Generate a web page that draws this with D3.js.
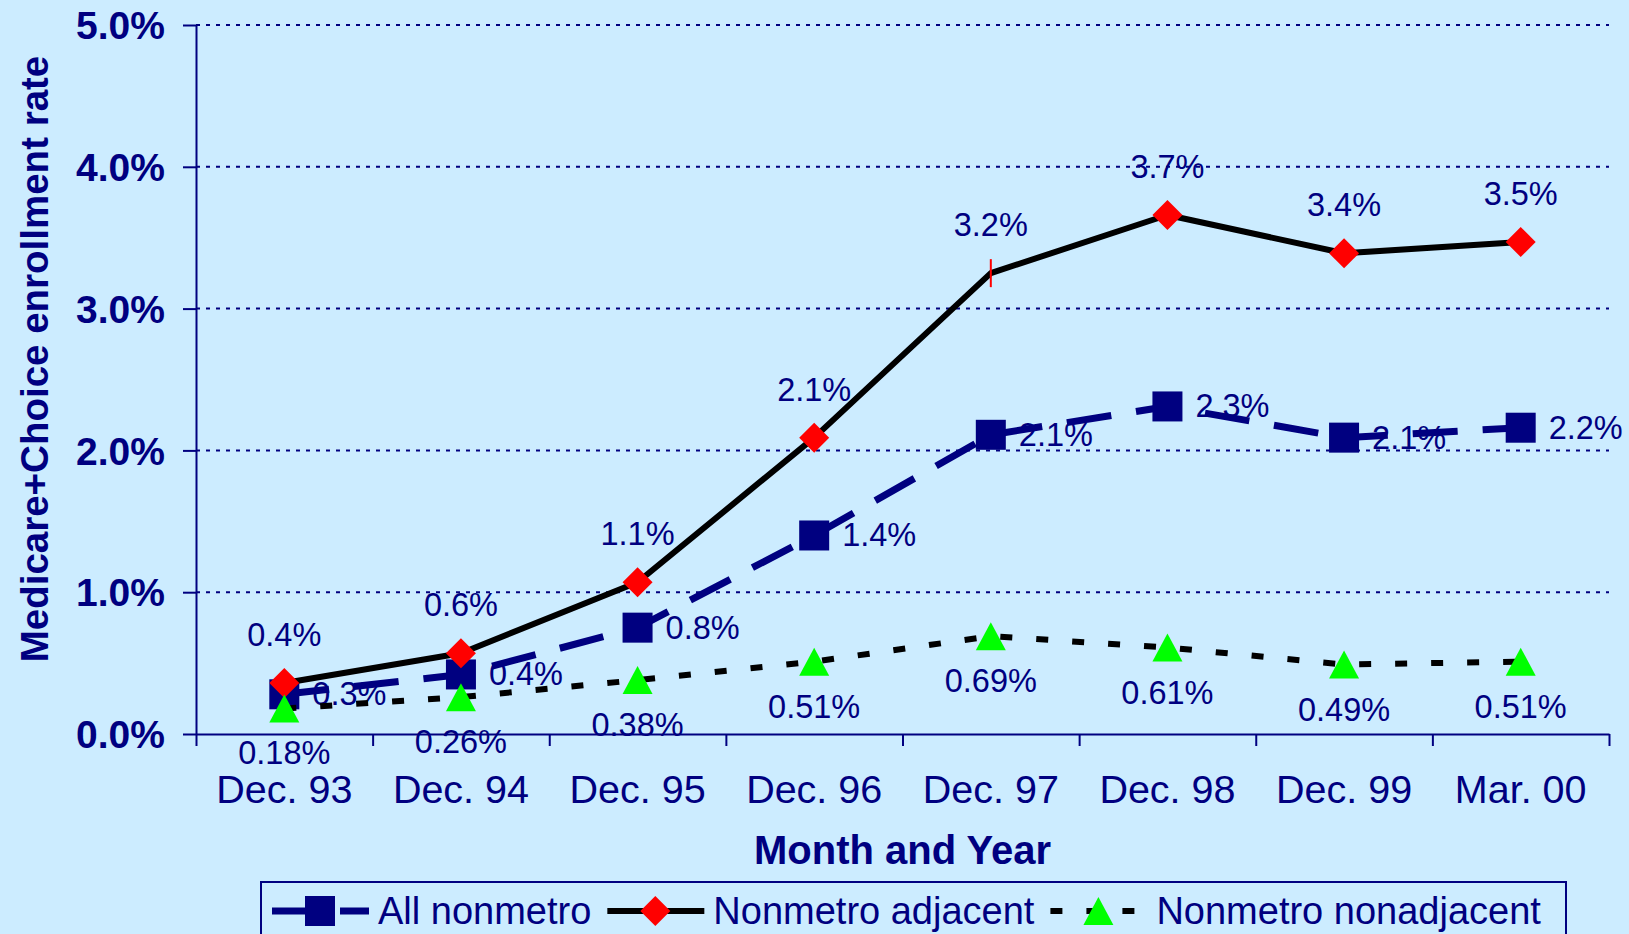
<!DOCTYPE html>
<meta charset="utf-8">
<style>
    body { margin: 0; background: #ccecff; }
    svg { display: block; font-family: "Liberation Sans", Arial, sans-serif; }
    .axis path, .axis line { stroke: #000080; stroke-width: 2px; }
    .ylab text { font-size: 39px; font-weight: bold; fill: #000080; }
    .xlab text { font-size: 39.5px; fill: #000080; }
    .grid { stroke: #000080; stroke-width: 2px; stroke-dasharray: 4,6; }
    .dlabel { font-size: 32.5px; fill: #000080; }
</style>
<body>
<script src="https://d3js.org/d3.v7.min.js"></script>
<script>
    // chart values
    var categories = ["Dec. 93", "Dec. 94", "Dec. 95", "Dec. 96", "Dec. 97", "Dec. 98", "Dec. 99", "Mar. 00"];
    var allNonmetro = [0.28, 0.42, 0.75, 1.40, 2.11, 2.31, 2.09, 2.16];
    var allLabels = ["0.3%", "0.4%", "0.8%", "1.4%", "2.1%", "2.3%", "2.1%", "2.2%"];
    var adjacent = [0.36, 0.57, 1.07, 2.09, 3.25, 3.66, 3.39, 3.47];
    var adjLabels = ["0.4%", "0.6%", "1.1%", "2.1%", "3.2%", "3.7%", "3.4%", "3.5%"];
    var nonadjacent = [0.18, 0.26, 0.38, 0.51, 0.69, 0.61, 0.49, 0.51];
    var nonadjLabels = ["0.18%", "0.26%", "0.38%", "0.51%", "0.69%", "0.61%", "0.49%", "0.51%"];
    var yTicks = [0, 1, 2, 3, 4, 5];
    var legendNames = ["All nonmetro", "Nonmetro adjacent", "Nonmetro nonadjacent"];

    var navy = "#000080";
    var W = 1629, H = 934;
    var plotLeft = 196, plotRight = 1609, plotTop = 25, plotBottom = 734;

    var svg = d3.select("body").append("svg")
        .attr("width", W)
        .attr("height", H);

    svg.append("rect").attr("width", W).attr("height", H).attr("fill", "#ccecff");

    var x = d3.scaleBand().domain(categories).range([plotLeft, plotRight]);
    var xb = d3.scaleLinear().domain([0, categories.length]).range([plotLeft, plotRight]);
    var y = d3.scaleLinear().domain([0, 5]).range([plotBottom, plotTop]);
    var cx = function(i) { return x(categories[i]) + x.bandwidth() / 2; };

    var series = [
        { vals: allNonmetro, labels: allLabels, color: navy, width: 7, dash: "45,25", marker: "square",
          lx: 28, ly: 11, anchor: "start" },
        { vals: adjacent, labels: adjLabels, color: "#000", width: 6, dash: null, marker: "diamond",
          lx: 0, ly: -37, anchor: "middle" },
        { vals: nonadjacent, labels: nonadjLabels, color: "#000", width: 6, dash: "12,24", marker: "triangle",
          lx: 0, ly: 56, anchor: "middle" }
    ];

    // data labels sit underneath everything else
    series.forEach(function(s) {
        svg.append("g").selectAll("text")
            .data(s.vals)
            .enter().append("text")
            .attr("class", "dlabel")
            .attr("x", function(d, i) { return cx(i) + s.lx; })
            .attr("y", function(d) { return y(d) + s.ly; })
            .attr("text-anchor", s.anchor)
            .text(function(d, i) { return s.labels[i]; });
    });

    // gridlines
    svg.append("g").selectAll("line")
        .data(yTicks.slice(1))
        .enter().append("line")
        .attr("class", "grid")
        .attr("x1", plotLeft).attr("x2", plotRight)
        .attr("y1", function(d) { return y(d); })
        .attr("y2", function(d) { return y(d); });

    function drawMarker(g, type, px, py, fill) {
        if (type === "square") {
            g.append("rect").attr("x", px - 15).attr("y", py - 15)
                .attr("width", 30).attr("height", 30).attr("fill", fill);
        } else if (type === "diamond") {
            g.append("path").attr("d", "M" + px + "," + (py - 15) + "L" + (px + 15) + "," + py +
                "L" + px + "," + (py + 15) + "L" + (px - 15) + "," + py + "Z").attr("fill", fill);
        } else if (type === "triangle") {
            g.append("path").attr("d", "M" + px + "," + (py - 14) + "L" + (px + 15) + "," + (py + 14) +
                "L" + (px - 15) + "," + (py + 14) + "Z").attr("fill", fill);
        } else if (type === "tick") {
            g.append("line").attr("x1", px).attr("x2", px).attr("y1", py - 14).attr("y2", py + 14)
                .attr("stroke", fill).attr("stroke-width", 2);
        }
    }
    var markerFill = { square: navy, diamond: "#ff0000", triangle: "#00ff00" };

    var line = d3.line()
        .x(function(d, i) { return cx(i); })
        .y(function(d) { return y(d); });

    series.forEach(function(s) {
        var g = svg.append("g");
        g.append("path")
            .datum(s.vals)
            .attr("d", line)
            .attr("fill", "none")
            .attr("stroke", s.color)
            .attr("stroke-width", s.width)
            .attr("stroke-linejoin", "round")
            .attr("stroke-dasharray", s.dash);
        s.vals.forEach(function(d, i) {
            // the Dec. 97 adjacent marker shows only as a thin red stroke in the original
            var t = (s.marker === "diamond" && i === 4) ? "tick" : s.marker;
            drawMarker(g, t, cx(i), y(d), t === "tick" ? "#ff0000" : markerFill[s.marker]);
        });
    });

    // y axis
    svg.append("g")
        .attr("class", "axis ylab")
        .attr("transform", "translate(" + plotLeft + ",0)")
        .call(d3.axisLeft(y).tickValues(yTicks).tickSize(13).tickSizeOuter(0).tickPadding(18)
            .tickFormat(function(d) { return d.toFixed(1) + "%"; }))
        .selectAll("text").attr("dy", "0.35em");

    // x axis: ticks at category boundaries
    svg.append("g")
        .attr("class", "axis")
        .attr("transform", "translate(0," + plotBottom + ")")
        .call(d3.axisBottom(xb).ticks(categories.length).tickSize(12).tickSizeOuter(0).tickFormat(""));

    svg.append("g")
        .attr("class", "xlab")
        .attr("transform", "translate(0," + plotBottom + ")")
        .call(d3.axisBottom(x).tickSize(0).tickPadding(0))
        .call(function(g) { g.select(".domain").remove(); })
        .selectAll("text").attr("dy", null).attr("y", 69);

    // axis titles
    svg.append("text")
        .attr("x", (plotLeft + plotRight) / 2).attr("y", 864)
        .attr("text-anchor", "middle")
        .style("font-size", "40px").style("font-weight", "bold").attr("fill", navy)
        .text("Month and Year");

    svg.append("text")
        .attr("transform", "translate(48,359) rotate(-90)")
        .attr("text-anchor", "middle")
        .style("font-size", "38.5px").style("font-weight", "bold").attr("fill", navy)
        .text("Medicare+Choice enrollment rate");

    // legend
    var lg = svg.append("g");
    lg.append("rect")
        .attr("x", 261).attr("y", 882).attr("width", 1305).attr("height", 80)
        .attr("fill", "none").attr("stroke", navy).attr("stroke-width", 2);
    var lx = 272, ly = 911;
    series.forEach(function(s, k) {
        lg.append("line")
            .attr("x1", lx).attr("x2", lx + 97)
            .attr("y1", ly).attr("y2", ly)
            .attr("stroke", s.color).attr("stroke-width", s.width)
            .attr("stroke-dasharray", s.dash ? (s.marker === "square" ? "36,32,30" : "12,24") : null);
        drawMarker(lg, s.marker, lx + 48, ly, markerFill[s.marker]);
        var t = lg.append("text")
            .attr("x", lx + 106).attr("y", 924)
            .style("font-size", "38px").attr("fill", navy)
            .text(legendNames[k]);
        lx = lx + 106 + t.node().getComputedTextLength() + 16;
    });
</script>
</body>
